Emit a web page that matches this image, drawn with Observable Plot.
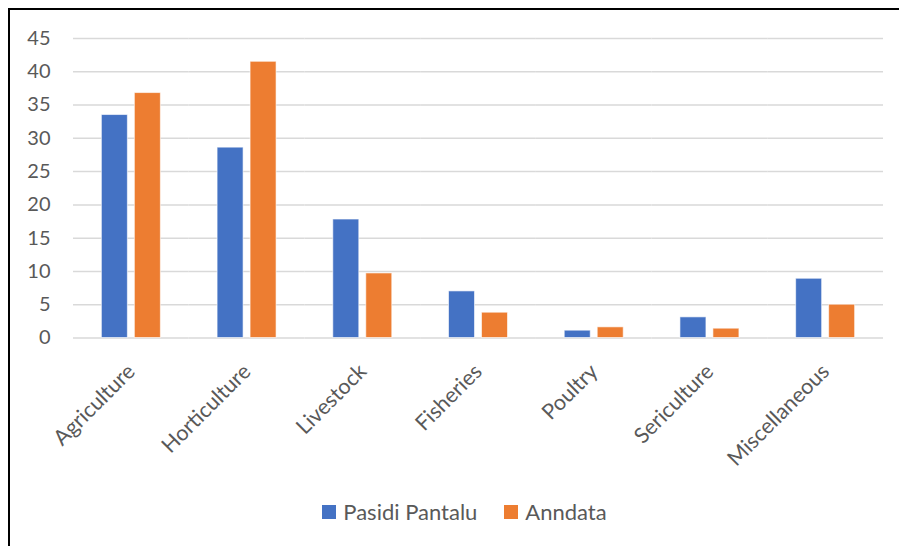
<!DOCTYPE html>
<html>
<head>
<meta charset="utf-8">
<script src="https://cdn.jsdelivr.net/npm/d3@7"></script>
<script src="https://cdn.jsdelivr.net/npm/@observablehq/plot@0.6"></script>
<style>
  html, body { margin: 0; padding: 0; background: #fff; }
  #wrap { position: relative; width: 899px; height: 546px; overflow: hidden; font-family: Lato, "Open Sans", sans-serif; }
  #frame { position: absolute; left: 8px; top: 8px; width: 1000px; height: 1000px; border-left: 2px solid #000; border-top: 2px solid #000; box-sizing: border-box; }
  #chart { position: absolute; left: 0; top: 0; }
  #legend { position: absolute; left: 0; width: 929px; top: 498px; display: flex; justify-content: center; gap: 27px; color: #595959; font-size: 22px; }
  .item { display: flex; align-items: center; gap: 7px; }
  .sw { width: 14px; height: 14px; display: inline-block; }
</style>
</head>
<body>
<div id="wrap">
  <div id="frame"></div>
  <div id="chart"></div>
  <div id="legend"></div>
</div>
<script>
// Sector categories and the two series compared in each
const categories = ["Agriculture", "Horticulture", "Livestock", "Fisheries", "Poultry", "Sericulture", "Miscellaneous"];
const seriesNames = ["Pasidi Pantalu", "Anndata"];
const pasidiPantalu = [33.5, 28.6, 17.8, 7.0, 1.1, 3.1, 8.9];
const anndata = [36.8, 41.5, 9.7, 3.8, 1.6, 1.4, 5.0];
const seriesColors = ["#4472C4", "#ED7D31"];
const yTicks = [0, 5, 10, 15, 20, 25, 30, 35, 40, 45];

const rows = categories.flatMap((c, i) => [
  {category: c, series: seriesNames[0], value: pasidiPantalu[i]},
  {category: c, series: seriesNames[1], value: anndata[i]}
]);

const chart = Plot.plot({
  width: 899,
  height: 490,
  marginLeft: 73,
  marginRight: 16,
  marginTop: 38,
  marginBottom: 152.5,
  style: {fontFamily: "Lato, 'Open Sans', sans-serif", fontSize: "20px", color: "#595959", background: "transparent"},
  fx: {domain: categories, padding: 0, round: false, label: null},
  x: {domain: seriesNames, paddingInner: 0.212, paddingOuter: 0.86, round: false, axis: null},
  y: {domain: [0, 45], ticks: yTicks, label: null},
  color: {domain: seriesNames, range: seriesColors},
  marks: [
    Plot.gridY(yTicks, {stroke: "#d9d9d9", strokeOpacity: 1, strokeWidth: 1.5}),
    Plot.axisY(yTicks, {tickSize: 0, tickPadding: 23, fontSize: 20, fill: "#595959", label: null}),
    Plot.axisFx({anchor: "bottom", tickSize: 0, tickPadding: 30, dx: 0, tickRotate: -45, fontSize: 21.5, fill: "#595959", label: null}),
    Plot.barY(rows, {fx: "category", x: "series", y: "value", fill: "series", stroke: "#fff", strokeOpacity: 0.6, strokeWidth: 1})
  ]
});
document.getElementById("chart").appendChild(chart);

const legend = document.getElementById("legend");
seriesNames.forEach((name, i) => {
  const item = document.createElement("div");
  item.className = "item";
  const sw = document.createElement("span");
  sw.className = "sw";
  sw.style.background = seriesColors[i];
  const label = document.createElement("span");
  label.textContent = name;
  item.appendChild(sw);
  item.appendChild(label);
  legend.appendChild(item);
});
</script>
</body>
</html>
